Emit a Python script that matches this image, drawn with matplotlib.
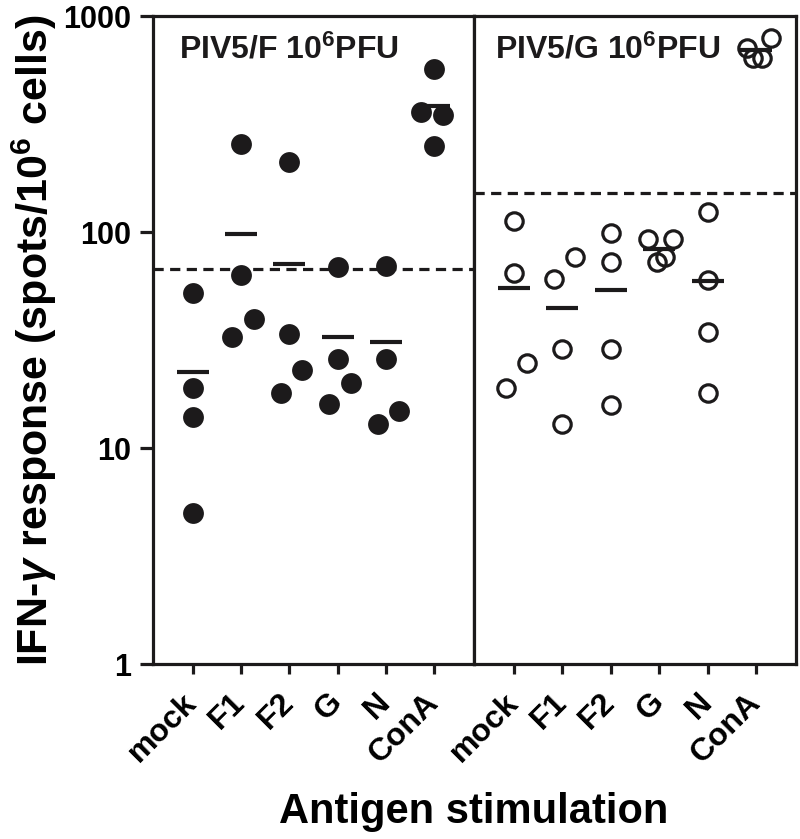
import numpy as np
import matplotlib
matplotlib.use("Agg")
import matplotlib.pyplot as plt

plt.rcParams['font.family'] = ['Liberation Sans', 'DejaVu Sans']
plt.rcParams['font.weight'] = 'bold'
plt.rcParams['mathtext.fontset'] = 'custom'
plt.rcParams['mathtext.rm'] = 'Liberation Sans:bold'
plt.rcParams['mathtext.bf'] = 'Liberation Sans:bold'
plt.rcParams['mathtext.it'] = 'Liberation Sans:italic'

# -------------------------------------------------------
# data (spots / 10^6 cells)
# -------------------------------------------------------
antigens = ["mock", "F1", "F2", "G", "N", "ConA"]

piv5f_vals = [
    [52.4, 18.9, 13.9, 5.0],      # mock
    [256, 63, 32.8, 39.6],        # F1
    [211, 33.6, 22.9, 17.9],      # F2
    [69, 25.8, 19.9, 15.9],       # G
    [69.8, 25.8, 14.9, 12.9],     # N
    [569, 360, 348, 250],         # ConA
]
piv5g_vals = [
    [112.8, 64.4, 24.7, 18.9],
    [76.9, 60.4, 28.6, 12.9],
    [99.3, 72.9, 28.6, 15.8],
    [92.5, 92.5, 76.4, 72.9],
    [124, 60, 34.6, 17.9],
    [788, 708, 637, 637],
]
# horizontal scatter of the dots (category units)
piv5f_jit = [
    [0, 0, 0, 0],
    [0, 0, -0.18, 0.26],
    [0, 0, 0.27, -0.17],
    [0, 0, 0.27, -0.17],
    [0, 0, 0.27, -0.17],
    [0, -0.28, 0.17, 0],
]
piv5g_jit = [
    [0, 0, 0.27, -0.17],
    [0.27, -0.17, 0, 0],
    [0, 0, 0, 0],
    [-0.24, 0.28, 0.12, -0.05],
    [0, 0, 0, 0],
    [0.30, -0.20, -0.06, 0.12],
]
cutoff_f = 67.4
cutoff_g = 152

titles = [r"PIV5/F 10$^6$PFU", r"PIV5/G 10$^6$PFU"]

# -------------------------------------------------------
# figure
# -------------------------------------------------------
W, H = 800, 839
fig = plt.figure(figsize=(W / 100, H / 100), dpi=100)
ink = "#1c1a1b"

bot = 1 - 664 / H
hgt = (664 - 16) / H
ax1 = fig.add_axes([153 / W, bot, (474 - 153) / W, hgt])
ax2 = fig.add_axes([474 / W, bot, (796 - 474) / W, hgt])

lw = 2.3
for ax, vals, jit, cut, title, tx, filled in [
        (ax1, piv5f_vals, piv5f_jit, cutoff_f, titles[0], 0.081, True),
        (ax2, piv5g_vals, piv5g_jit, cutoff_g, titles[1], 0.065, False)]:
    ax.set_yscale("log")
    ax.set_ylim(1, 1000)
    ax.set_xlim(-0.82, 5.82)
    for i, (v, j) in enumerate(zip(vals, jit)):
        x = i + np.array(j)
        if filled:
            ax.plot(x, v, "o", ms=15, color=ink, mec="none", zorder=3)
        else:
            ax.plot(x, v, "o", ms=12.5, mfc="none", mec=ink,
                    mew=2.3, zorder=3)
        m = np.mean(v)
        ax.hlines(m, i - 0.33, i + 0.33, color=ink, lw=3, zorder=2)
    ax.axhline(cut, color=ink, lw=2.3, ls=(0, (3.2, 2.0)), zorder=1)
    ax.text(tx, 0.935, title, transform=ax.transAxes, fontsize=23,
            fontweight="bold", ha="left", va="baseline", color=ink)
    for s in ax.spines.values():
        s.set_linewidth(lw)
        s.set_color(ink)
    ax.set_xticks(range(len(antigens)))
    ax.set_xticklabels(antigens, rotation=45, ha="right", va="center",
                       rotation_mode="anchor", fontsize=23, fontweight="bold")
    ax.tick_params(axis="x", length=7.5, width=lw, pad=17, color=ink)
    ax.minorticks_off()

ax1.set_yticks([1, 10, 100, 1000])
ax1.set_yticklabels(["1", "10", "100", "1000"], fontsize=22, fontweight="bold")
ax1.tick_params(axis="y", length=9.5, width=lw, pad=6.5, color=ink)
ax1.set_ylabel(r"IFN-$\gamma$ response (spots/10$^6$ cells)", fontsize=31,
               fontweight="bold", labelpad=3)
ax2.set_yticks([])
ax2.tick_params(axis="y", left=False, labelleft=False)

fig.text(474 / W, 1 - 823 / H, "Antigen stimulation", fontsize=30,
         fontweight="bold", ha="center", va="baseline")

fig.savefig("out.png", dpi=100)
